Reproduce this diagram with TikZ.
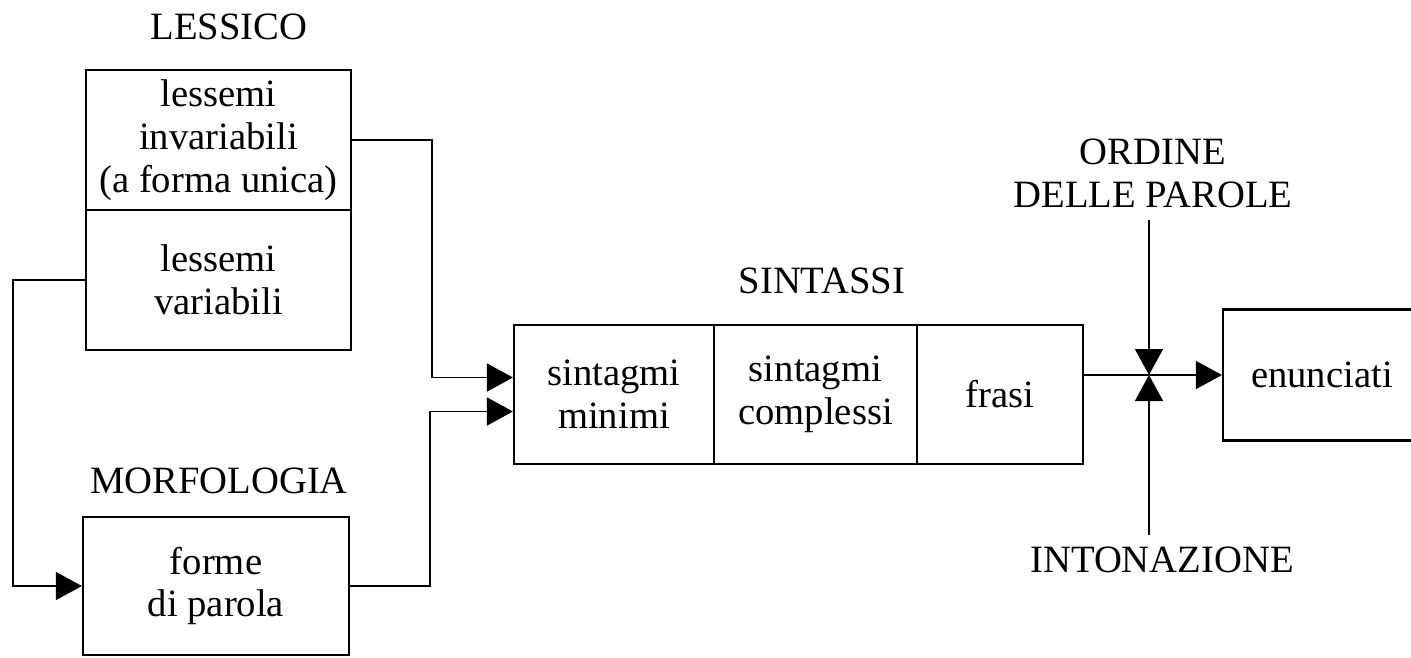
\documentclass[tikz,border=0pt]{standalone}
\usepackage{fontspec}
\setmainfont{Liberation Serif}
\usetikzlibrary{arrows.meta}
\begin{document}
\begin{tikzpicture}[line join=miter,
  every node/.style={font=\fontsize{11}{12.2}\selectfont, align=center},
  box/.style={draw, line width=0.6pt, inner sep=0pt, minimum height=1.39cm},
  arr/.style={line width=0.4pt, -{Triangle[length=0.26cm,width=0.28cm]}}]
  \useasboundingbox (0,0) rectangle (14.11,6.57);
  % lessico and morfologia
  \node at (2.29,6.30) {LESSICO};
  \node[box, minimum width=2.65cm, minimum height=1.40cm] (inv) at (2.185,5.17) {lessemi\\invariabili\\(a forma unica)};
  \node[box, minimum width=2.65cm, minimum height=1.40cm] (var) at (2.185,3.77) {lessemi\\variabili};
  \node at (2.19,1.76) {MORFOLOGIA};
  \node[box, minimum width=2.66cm, minimum height=1.38cm] (forme) at (2.16,0.71) {forme\\di parola};
  % sintassi
  \node at (8.22,3.76) {SINTASSI};
  \node[box, minimum width=2.00cm] (min) at (6.14,2.625) {sintagmi\\minimi};
  \node[box, minimum width=2.03cm] (compl) at (8.155,2.625) {sintagmi\\complessi};
  \node[box, minimum width=1.66cm] (frasi) at (10.00,2.625) {frasi};
  \node[box, minimum width=1.98cm, minimum height=1.31cm] (enun) at (13.22,2.82) {enunciati};
  \node (ordine) at (11.53,4.84) {ORDINE\\DELLE PAROLE};
  \node (inton) at (11.62,0.97) {INTONAZIONE};
  \coordinate (cross) at (11.49,2.82);
  % connectors
  \draw[arr] (inv.east) -- ++(0.80,0) |- ([yshift=0.17cm]min.west);
  \draw[arr] (forme.east) -- ++(0.80,0) |- ([yshift=-0.17cm]min.west);
  \draw[arr] (var.west) -- ++(-0.72,0) |- (forme.west);
  \draw[arr] (frasi.east |- enun.west) -- (enun.west);
  \draw[arr] (cross |- ordine.south) -- (cross);
  \draw[arr] (cross |- inton.north) -- (cross);
\end{tikzpicture}
\end{document}
